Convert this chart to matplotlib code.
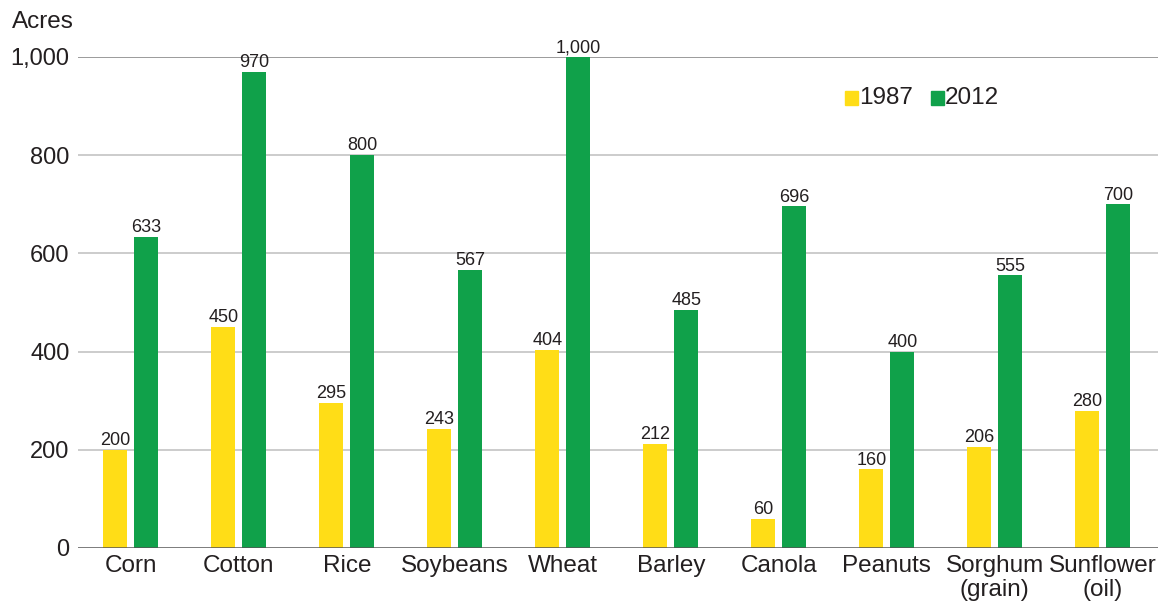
import matplotlib
matplotlib.use("Agg")
import matplotlib.pyplot as plt
from matplotlib.patches import Rectangle
import numpy as np

categories = ["Corn", "Cotton", "Rice", "Soybeans", "Wheat", "Barley", "Canola",
              "Peanuts", "Sorghum\n(grain)", "Sunflower\n(oil)"]
values_1987 = [200, 450, 295, 243, 404, 212, 60, 160, 206, 280]
values_2012 = [633, 970, 800, 567, 1000, 485, 696, 400, 555, 700]
yticks = [0, 200, 400, 600, 800, 1000]
ytick_labels = ["0", "200", "400", "600", "800", "1,000"]

YELLOW = "#FFDD17"
GREEN = "#10A14A"
TEXT = "#231F20"

plt.rcParams['font.family'] = ['Liberation Sans', 'DejaVu Sans']

fig = plt.figure(figsize=(11.6, 6.07), dpi=100)
ax = fig.add_axes([0.0672, 0.0972, 0.931, 0.809])

x = np.arange(len(categories))
w = 0.222
off = 0.143
ax.bar(x - off, values_1987, w, color=YELLOW, zorder=3)
ax.bar(x + off, values_2012, w, color=GREEN, zorder=3)

def fmt(v):
    return f"{v:,}"

for xi, v in zip(x, values_1987):
    ax.annotate(fmt(v), (xi - off, v), xytext=(0, 0.5), textcoords="offset points",
                ha="center", va="bottom", fontsize=13, color=TEXT, zorder=4)
for xi, v in zip(x, values_2012):
    ax.annotate(fmt(v), (xi + off, v), xytext=(0, 0.5), textcoords="offset points",
                ha="center", va="bottom", fontsize=13, color=TEXT, zorder=4)

ax.set_xlim(-0.49, 9.51)
ax.set_ylim(0, 1000)
for s in ax.spines.values():
    s.set_visible(False)

for t in yticks[1:-1]:
    ax.axhline(t, color="#C4C4C4", lw=1.2, zorder=1)
ax.axhline(1000, color="#8A8A8A", lw=1.2, zorder=1)
ax.axhline(0, color="#555555", lw=1.8, zorder=5)

ax.set_yticks(yticks)
ax.set_yticklabels(ytick_labels, fontsize=17, color=TEXT)
ax.set_xticks(x)
ax.set_xticklabels(categories, fontsize=17.5, color=TEXT, linespacing=1.15)
ax.tick_params(axis="both", length=0)
ax.tick_params(axis="y", pad=6)
ax.tick_params(axis="x", pad=5)

fig.text(12 / 1160, 1 - 22 / 607, "Acres", fontsize=17.5, color=TEXT, ha="left", va="center")

# legend
def leg_item(px, label, color):
    fig.patches.append(Rectangle((px / 1160, 1 - 105 / 607), 13 / 1160, 14 / 607,
                                 transform=fig.transFigure, color=color, figure=fig))
    fig.text((px + 14) / 1160, 1 - 98 / 607, label, fontsize=17.5, color=TEXT,
             ha="left", va="center")

leg_item(845, "1987", YELLOW)
leg_item(931, "2012", GREEN)

fig.savefig("out.png", dpi=100)
